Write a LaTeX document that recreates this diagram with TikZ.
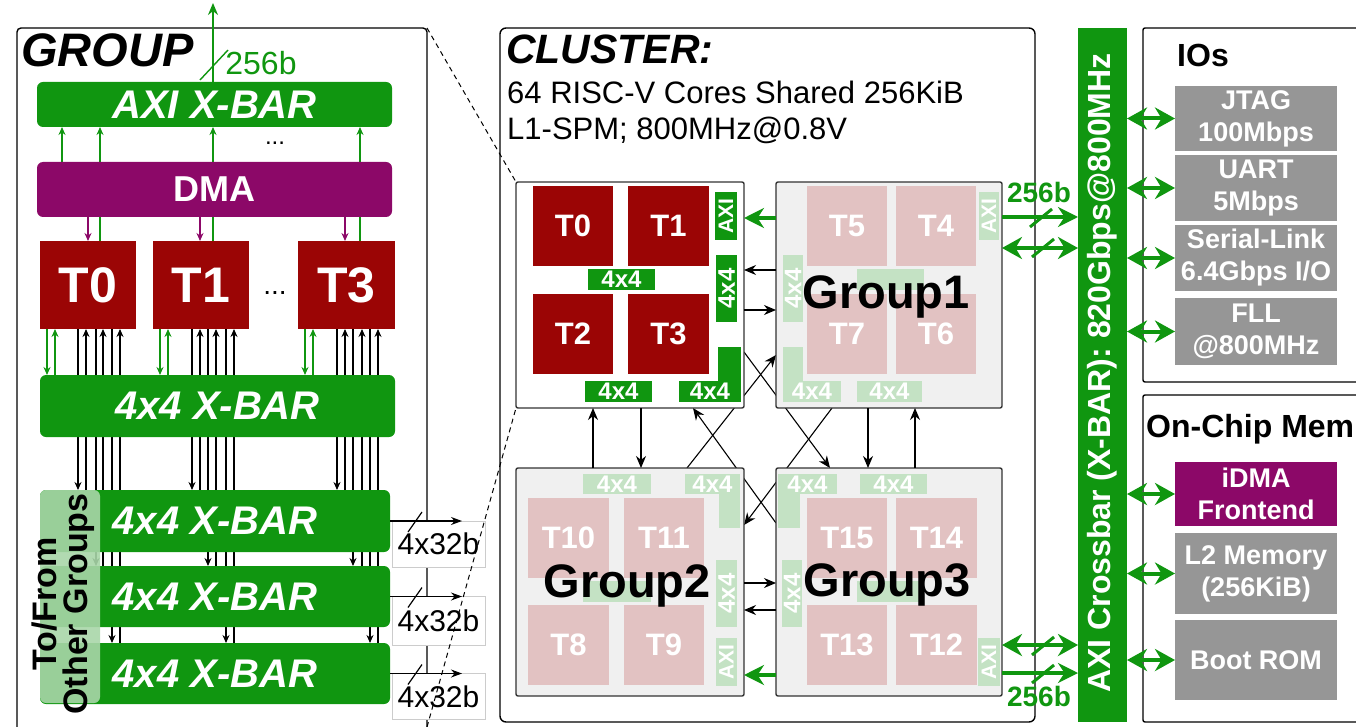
\documentclass[tikz,border=0pt]{standalone}
\usepackage{fontspec}
\setmainfont{Liberation Sans}
\usetikzlibrary{arrows.meta}
\definecolor{gr}{RGB}{16,150,16}
\definecolor{lgr}{RGB}{168,214,168}
\definecolor{fgr}{RGB}{196,226,196}
\definecolor{dred}{RGB}{155,5,5}
\definecolor{fred}{RGB}{226,194,194}
\definecolor{pur}{RGB}{140,8,104}
\definecolor{gry}{RGB}{150,150,150}
\definecolor{fbg}{RGB}{240,240,240}
\newcommand{\fsz}[1]{\fontsize{#1}{#1}\selectfont}
\pgfdeclarelayer{bg}
\pgfsetlayers{bg,main}
\tikzset{
  bx/.style={inner sep=0pt, outer sep=0pt, align=center},
  grbar/.style={bx, fill=gr, rounded corners=6pt, text=white, font=\bfseries\itshape\fsz{40}},
  tile/.style={bx, fill=dred, text=white, font=\bfseries\fsz{50}, minimum height=88pt},
  ctile/.style={bx, fill=dred, text=white, font=\bfseries\fsz{31}, minimum height=80pt},
  ftile/.style={bx, fill=fred, text=white, font=\bfseries\fsz{31}, minimum height=80pt},
  sgr/.style={bx, fill=gr, text=white, font=\bfseries\fsz{24}},
  fsgr/.style={bx, fill=fgr, text=white, font=\bfseries\fsz{24}},
  grpbox/.style={bx, draw=black!80, line width=1.4pt, rounded corners=2pt},
  gbox/.style={bx, fill=gry, text=white, font=\bfseries\fontsize{27}{32}\selectfont, minimum width=162pt},
  lbl/.style={bx, fill=white, draw=black!20, line width=0.6pt, minimum width=93pt, font=\fsz{30}},
  glab/.style={anchor=base, inner sep=0pt, font=\bfseries\fsz{47}},
  arr/.style={line width=1.1pt, -{Stealth[length=8pt,width=7pt]}},
  larr/.style={line width=1.1pt, -{Stealth[length=11pt,width=8pt]}},
  garr/.style={gr, line width=1.4pt, -{Stealth[length=8pt,width=7pt]}},
  parr/.style={pur, line width=1.4pt, -{Stealth[length=8pt,width=7pt]}},
  carr/.style={line width=1.1pt, -{Stealth[length=12pt,width=10pt]}},
  gbig/.style={gr, line width=4pt, -{Stealth[length=20pt,width=20pt]}},
  gdbl/.style={gr, line width=4pt, {Stealth[length=20pt,width=22pt]}-{Stealth[length=20pt,width=22pt]}},
  slash/.style={line width=1.2pt},
  gslash/.style={gr, line width=3pt},
  boxline/.style={bx, draw=black, line width=1.4pt, rounded corners=4pt},
}
\begin{document}
\begin{tikzpicture}[x=1pt,y=-1pt]
\useasboundingbox (0,0) rectangle (1356,727);
% ================= GROUP =================
\node[boxline, minimum width=410pt, minimum height=717pt] (grp) at (222,386.5) {};
\node[anchor=base west, inner sep=0pt, font=\bfseries\itshape\fsz{47}] (grpt) at (21,67) {GROUP};
\node[grbar, minimum width=355pt, minimum height=45pt] (axi) at (214.5,104.5) {AXI X-BAR};
\node[bx, fill=pur, rounded corners=6pt, text=white, font=\bfseries\fsz{36}, minimum width=355pt, minimum height=55pt] (dma) at (214.5,189.5) {DMA};
\node[tile, minimum width=96pt] (t0) at (88,285) {T0};
\node[tile, minimum width=96pt] (t1) at (201,285) {T1};
\node[tile, minimum width=97pt] (t3) at (346.5,285) {T3};
\node[bx, font=\fsz{24}] (dotsa) at (275,143) {...};
\node[bx, font=\fsz{28}] (dotsb) at (275,293) {...};
\node[grbar, minimum width=355pt, minimum height=62pt] (xb0) at (217.5,406) {4x4 X-BAR};
\node[grbar, minimum width=350pt, minimum height=62pt] (xb1) at (215,521) {4x4 X-BAR};
\node[grbar, minimum width=350pt, minimum height=61pt] (xb2) at (215,596.5) {4x4 X-BAR};
\node[grbar, minimum width=350pt, minimum height=61pt] (xb3) at (215,673.5) {4x4 X-BAR};
\node[bx, fill=lgr, fill opacity=0.9, rounded corners=6pt, minimum width=60pt, minimum height=213pt] (pnl) at (70,596.5) {};
\node[bx, rotate=90, font=\bfseries\fontsize{34}{31}\selectfont] (pnlt) at (63,604) {To/From\\Other Groups};

\begin{pgfonlayer}{bg}
\foreach \x/\t in {100/t0,213/t1,360/t3} \draw[garr] (\x,0 |- \t.north) -- (\x,0 |- axi.south);
\draw[garr] (62,0 |- dma.north) -- (62,0 |- axi.south);
\foreach \x/\t in {47/t0,160/t1,305/t3} \draw[garr] (\x,0 |- \t.south) -- (\x,0 |- xb0.north);
\foreach \x/\t in {55/t0,168/t1,313/t3} \draw[garr] (\x,0 |- xb0.north) -- (\x,0 |- \t.south);
\foreach \x/\t in {78/t0,192/t1,337/t3} \draw[arr] (\x,0 |- \t.south) -- (\x,0 |- xb1.north);
\foreach \x/\t in {86/t0,200/t1,345/t3} \draw[arr] (\x,0 |- xb1.north) -- (\x,0 |- \t.south);
\foreach \x/\t in {96/t0,208/t1,353/t3} \draw[arr] (\x,0 |- \t.south) -- (\x,0 |- xb2.north);
\foreach \x/\t in {103/t0,216/t1,362/t3} \draw[arr] (\x,0 |- xb2.north) -- (\x,0 |- \t.south);
\foreach \x/\t in {112/t0,226/t1,370/t3} \draw[arr] (\x,0 |- \t.south) -- (\x,0 |- xb3.north);
\foreach \x/\t in {120/t0,234/t1,378/t3} \draw[arr] (\x,0 |- xb3.north) -- (\x,0 |- \t.south);
\end{pgfonlayer}
\foreach \x/\t in {88/t0,200/t1,345/t3} \draw[parr] (\x,0 |- dma.south) -- (\x,0 |- \t.north);

\coordinate (topout) at (213,3);
\draw[gr, line width=1.4pt, -{Stealth[length=12pt,width=10pt]}] (213,0 |- axi.north) -- (topout);
\draw[gr, line width=1.4pt] ([shift={(-14.5,-2)}]axi.north) -- ++(28,-30);
\node[bx, text=gr, font=\fsz{32}] (w256) at (261,63) {256b};

\node[lbl, minimum height=46pt] (l1) at (438.5,544) {4x32b};
\node[lbl, minimum height=49pt] (l2) at (438.5,621) {4x32b};
\node[lbl, minimum height=46pt] (l3) at (438.5,696.5) {4x32b};
\coordinate (e1) at (462,521);
\coordinate (e2) at (462,596.5);
\coordinate (e3) at (462,673.5);
\draw[larr] (xb1.east) -- (e1);
\draw[larr] (xb2.east) -- (e2);
\draw[larr] (xb3.east) -- (e3);
\foreach \n in {xb1,xb2,xb3} \draw[slash] ([shift={(18,11)}]\n.east) -- ++(14,-20);

% ================= CLUSTER =================
\node[bx, draw=black, line width=1.4pt, rounded corners=6pt, minimum width=535pt, minimum height=694pt] (clu) at (767.5,375) {};
\node[anchor=base west, inner sep=0pt, font=\bfseries\itshape\fsz{41}] (clut) at (506,64) {CLUSTER:};
\node[anchor=base west, inner sep=0pt, font=\fsz{31}] (clua) at (507,104) {64 RISC-V Cores Shared 256KiB};
\node[anchor=base west, inner sep=0pt, font=\fsz{31}] (club) at (507,140) {L1-SPM; 800MHz@0.8V};

\node[grpbox, fill=white, minimum width=228pt, minimum height=226pt] (g0) at (630,295) {};
\node[grpbox, fill=fbg, minimum width=226pt, minimum height=226pt] (g1) at (889,295) {};
\node[grpbox, fill=fbg, minimum width=228pt, minimum height=228pt] (g2) at (630,582) {};
\node[grpbox, fill=fbg, minimum width=226pt, minimum height=228pt] (g3) at (889,582) {};

% Group 0
\node[ctile, minimum width=80pt] (c0) at (573,226) {T0};
\node[ctile, minimum width=81pt] (c1) at (668.5,226) {T1};
\node[ctile, minimum width=80pt] (c2) at (573,334) {T2};
\node[ctile, minimum width=81pt] (c3) at (668.5,334) {T3};
\node[sgr, rotate=90, minimum width=48pt, minimum height=22pt, font=\bfseries\fsz{21}] (g0axi) at (726,216) {AXI};
\node[sgr, rotate=90, minimum width=67pt, minimum height=21pt] (g0v) at (726.5,288.5) {4x4};
\node[sgr, minimum width=67pt, minimum height=21pt] (g0m) at (621.5,279.5) {4x4};
\node[sgr, minimum width=67pt, minimum height=21pt] (g0b) at (618.5,391.5) {4x4};
\node[sgr, minimum width=23pt, minimum height=55pt] (g0lv) at (729.5,374.5) {};
\node[sgr, minimum width=62pt, minimum height=21pt] (g0lh) at (710,391.5) {4x4};

% Group 1
\node[ftile, minimum width=80pt] (c5) at (847,226) {T5};
\node[ftile, minimum width=80pt] (c4) at (936,226) {T4};
\node[ftile, minimum width=80pt] (c7) at (847,334) {T7};
\node[ftile, minimum width=80pt] (c6) at (936,334) {T6};
\node[fsgr, rotate=90, minimum width=48pt, minimum height=20pt, font=\bfseries\fsz{21}] (g1axi) at (989,216) {AXI};
\node[fsgr, rotate=90, minimum width=67pt, minimum height=20pt] (g1v) at (793,288.5) {4x4};
\node[fsgr, minimum width=67pt, minimum height=21pt] (g1m) at (890.5,279.5) {};
\node[fsgr, minimum width=20pt, minimum height=55pt] (g1lv) at (793,374.5) {};
\node[fsgr, minimum width=58pt, minimum height=21pt] (g1lh) at (812,391.5) {4x4};
\node[fsgr, minimum width=65pt, minimum height=21pt] (g1b) at (889.5,391.5) {4x4};
\node[glab] (g1l) at (886,308) {Group1};

% Group 2
\node[fsgr, minimum width=68pt, minimum height=20pt] (g2t) at (617,484) {4x4};
\node[fsgr, minimum width=21pt, minimum height=54pt] (g2lv) at (729.5,501) {};
\node[fsgr, minimum width=55pt, minimum height=20pt] (g2lh) at (712.5,484) {4x4};
\node[ftile, minimum width=81pt] (c10) at (568.5,538) {T10};
\node[ftile, minimum width=80pt] (c11) at (664,538) {T11};
\node[ftile, minimum width=81pt] (c8) at (568.5,645) {T8};
\node[ftile, minimum width=80pt] (c9) at (664,645) {T9};
\node[fsgr, minimum width=68pt, minimum height=21pt] (g2m) at (617,591) {};
\node[fsgr, rotate=90, minimum width=67pt, minimum height=21pt] (g2v) at (726.5,593.5) {4x4};
\node[fsgr, rotate=90, minimum width=48pt, minimum height=21pt, font=\bfseries\fsz{21}] (g2axi) at (726.5,662) {AXI};
\node[glab] (g2l) at (627,597) {Group2};

% Group 3
\node[fsgr, minimum width=22pt, minimum height=54pt] (g3lv) at (789,501) {};
\node[fsgr, minimum width=59pt, minimum height=20pt] (g3lh) at (807.5,484) {4x4};
\node[fsgr, minimum width=67pt, minimum height=20pt] (g3t) at (893.5,484) {4x4};
\node[ftile, minimum width=80pt] (c15) at (847,538) {T15};
\node[ftile, minimum width=81pt] (c14) at (936.5,538) {T14};
\node[ftile, minimum width=80pt] (c13) at (847,645) {T13};
\node[ftile, minimum width=81pt] (c12) at (936.5,645) {T12};
\node[fsgr, minimum width=67pt, minimum height=21pt] (g3m) at (890.5,591) {};
\node[fsgr, rotate=90, minimum width=67pt, minimum height=20pt] (g3v) at (792,593.5) {4x4};
\node[fsgr, rotate=90, minimum width=48pt, minimum height=22pt, font=\bfseries\fsz{21}] (g3axi) at (989,662) {AXI};
\node[glab] (g3l) at (887,596) {Group3};

% inter-group connections
\begin{pgfonlayer}{bg}
\draw[carr] (g0.east |- 0,352) -- (830,0 |- g3.north);
\draw[carr] (832,0 |- g1.south) -- (g2.east |- 0,525);
\draw[carr] (g3.west |- 0,523) -- (693,0 |- g0.south);
\draw[carr] (687,0 |- g2.north) -- (g1.west |- 0,355);
\end{pgfonlayer}
\draw[carr] (g1.west |- 0,270) -- (g0.east |- 0,270);
\draw[carr] (g0.east |- 0,310) -- (g1.west |- 0,310);
\draw[carr] (593,0 |- g2.north) -- (593,0 |- g0.south);
\draw[carr] (641,0 |- g0.south) -- (641,0 |- g2.north);
\draw[carr] (868,0 |- g1.south) -- (868,0 |- g3.north);
\draw[carr] (915,0 |- g3.north) -- (915,0 |- g1.south);
\draw[carr] (g2.east |- 0,583) -- (g3.west |- 0,583);
\draw[carr] (g3.west |- 0,610) -- (g2.east |- 0,610);
\draw[gbig] (g1.west |- 0,218) -- (g0.east |- 0,218);
\draw[gbig] (g3.west |- 0,675) -- (g2.east |- 0,675);

% dashed zoom lines
\draw[line width=1pt, dash pattern=on 5pt off 4pt] (grp.north east) -- (g0.north west);
\draw[line width=1pt, dash pattern=on 5pt off 4pt] (grp.east |- 0,727) -- (g0.south west);

% ================= AXI crossbar =================
\node[bx, fill=gr, minimum width=49pt, minimum height=694pt] (xbar) at (1102.5,375) {};
\node[bx, rotate=90, text=white, font=\bfseries\fsz{32}] (xbart) at (1102.5,373) {AXI Crossbar (X-BAR): 820Gbps@800MHz};

\draw[gbig] (g1.east |- 0,217) -- (xbar.west |- 0,217);
\draw[gdbl] (g1.east |- 0,248) -- (xbar.west |- 0,248);
\draw[gdbl] (g3.east |- 0,645) -- (xbar.west |- 0,645);
\draw[gbig] (g3.east |- 0,673) -- (xbar.west |- 0,673);
\draw[gslash] (1030,227) -- (1052,209);
\draw[gslash] (1032,257) -- (1054,239);
\draw[gslash] (1032,655) -- (1054,637);
\draw[gslash] (1032,683) -- (1054,665);
\node[bx, text=gr, font=\bfseries\fsz{28}] (wa) at (1039,192) {256b};
\node[bx, text=gr, font=\bfseries\fsz{28}] (wb) at (1039,696) {256b};

% ================= IOs =================
\node[boxline, rounded corners=2pt, minimum width=223pt, minimum height=354pt] (ios) at (1254.5,205) {};
\node[anchor=base west, inner sep=0pt, font=\bfseries\fsz{32}] (iost) at (1177,67) {IOs};
\node[gbox, minimum height=65pt] (jtag) at (1256,118.5) {JTAG\\100Mbps};
\node[gbox, minimum height=66pt] (uart) at (1256,188) {UART\\5Mbps};
\node[gbox, minimum height=66pt] (ser) at (1256,258) {Serial-Link\\6.4Gbps I/O};
\node[gbox, minimum height=67pt] (fll) at (1256,331.5) {FLL\\@800MHz};
\foreach \n in {jtag,uart,ser,fll} \draw[gdbl] (xbar.east |- \n.west) -- (\n.west);

% ================= On-Chip Mem =================
\node[boxline, rounded corners=2pt, minimum width=223pt, minimum height=327pt] (ocm) at (1254.5,558.5) {};
\node[anchor=base west, inner sep=0pt, font=\bfseries\fsz{32}] (ocmt) at (1146,437) {On-Chip Mem};
\node[gbox, fill=pur, minimum height=64pt] (idma) at (1256,494) {iDMA\\Frontend};
\node[gbox, minimum height=81pt] (l2) at (1256,573.5) {L2 Memory\\(256KiB)};
\node[gbox, minimum height=80pt] (rom) at (1256,660) {Boot ROM};
\foreach \n in {idma,l2,rom} \draw[gdbl] (xbar.east |- \n.west) -- (\n.west);
\end{tikzpicture}
\end{document}
